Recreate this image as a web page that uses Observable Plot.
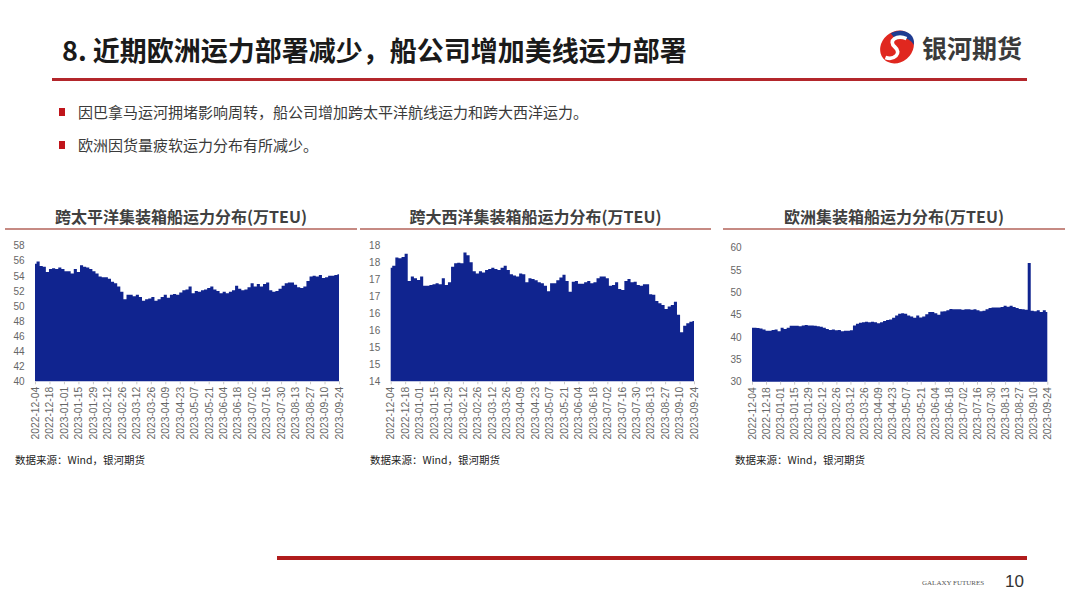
<!DOCTYPE html>
<html>
<head>
<meta charset="utf-8">
<script src="https://cdn.jsdelivr.net/npm/d3@7"></script>
<script src="https://cdn.jsdelivr.net/npm/@observablehq/plot@0.6"></script>
<style>
  html, body { margin: 0; padding: 0; background: #fff; }
  #slide { position: relative; width: 1080px; height: 608px; overflow: hidden; font-family: "Noto Sans CJK SC", "Noto Sans", sans-serif; }
  .abs { position: absolute; white-space: nowrap; }
  .ptitle { position: absolute; text-align: center; font-size: 16px; font-weight: bold; color: #404040; line-height: 20px; }
  .pline { position: absolute; height: 2px; background: #c68a83; }
  .src { position: absolute; font-size: 10.5px; color: #222; line-height: 14px; white-space: nowrap; }
  .bullet { position: absolute; width: 6px; height: 8px; background: #c0151b; }
  .btext { position: absolute; font-size: 15px; color: #3a3a3a; line-height: 20px; white-space: nowrap; }
  .chart { position: absolute; top: 240px; }
</style>
</head>
<body>
<div id="slide">
  <div class="abs" style="left:62px;top:33px;font-size:27px;font-weight:bold;color:#1a1a1a;line-height:34px;">8. 近期欧洲运力部署减少，船公司增加美线运力部署</div>
  <svg class="abs" width="40" height="40" viewBox="0 0 38 38" style="left:877px;top:27px">
    <ellipse cx="19" cy="19" rx="17" ry="14.5" transform="rotate(-40 19 19)" fill="#e0271f"/>
    <path d="M13 6 C23 0 37 5 35 17 C31 10 24 9 18 12 Z" fill="#1f3c91"/>
    <path d="M28 11 C19 7 10 13 17 19 C24 25 16 32 8 29" fill="none" stroke="#fff" stroke-width="3.5"/>
  </svg>
  <div class="abs" style="left:922px;top:31px;font-size:25px;font-weight:bold;color:#3a3a3a;line-height:32px;">银河期货</div>
  <div class="abs" style="left:52px;top:78px;width:975px;height:3px;background:#b3262b;"></div>

  <div class="bullet" style="left:59px;top:108px;"></div>
  <div class="btext" style="left:78px;top:102px;">因巴拿马运河拥堵影响周转，船公司增加跨太平洋航线运力和跨大西洋运力。</div>
  <div class="bullet" style="left:59px;top:141px;"></div>
  <div class="btext" style="left:78px;top:135px;">欧洲因货量疲软运力分布有所减少。</div>

  <div class="ptitle" style="left:5px;width:352px;top:206px;">跨太平洋集装箱船运力分布(万TEU)</div>
  <div class="pline" style="left:5px;width:352px;top:228px;"></div>
  <div class="ptitle" style="left:360px;width:351px;top:206px;">跨大西洋集装箱船运力分布(万TEU)</div>
  <div class="pline" style="left:360px;width:351px;top:228px;"></div>
  <div class="ptitle" style="left:723px;width:342px;top:206px;">欧洲集装箱船运力分布(万TEU)</div>
  <div class="pline" style="left:723px;width:342px;top:228px;"></div>

  <div id="c1" class="chart" style="left:0px;"></div>
  <div id="c2" class="chart" style="left:355px;"></div>
  <div id="c3" class="chart" style="left:715px;"></div>

  <div class="src" style="left:15px;top:453px;">数据来源：Wind，银河期货</div>
  <div class="src" style="left:370px;top:453px;">数据来源：Wind，银河期货</div>
  <div class="src" style="left:735px;top:453px;">数据来源：Wind，银河期货</div>

  <div class="abs" style="left:277px;top:556px;width:750px;height:4px;background:#b01c1c;"></div>
  <div class="abs" style="left:922px;top:578px;font-size:7px;font-family:'Liberation Serif',serif;color:#555;line-height:10px;">GALAXY FUTURES</div>
  <div class="abs" style="left:1005px;top:571px;font-size:17px;font-family:'Liberation Sans',Arial,sans-serif;color:#333;line-height:22px;">10</div>
</div>
<script>
// ---- data (every 3 days from 2022-12-04 to 2023-09-24) ----
const startDate = "2022-12-04";
const stepDays = 3;

const pacific = [
  55.6, 55.9, 55.3, 55.2, 54.5, 54.9, 55.0, 54.9, 55.1, 54.9,
  54.6, 54.6, 54.3, 54.9, 54.5, 55.4, 55.2, 55.1, 54.9, 54.6,
  54.3, 53.9, 53.8, 53.8, 53.6, 53.2, 53.0, 52.6, 51.9, 50.9,
  51.5, 51.5, 51.3, 51.5, 51.2, 50.7, 50.9, 51.0, 51.2, 50.7,
  50.9, 51.2, 51.5, 51.1, 51.5, 51.6, 51.5, 51.8, 52.1, 52.2,
  52.6, 51.7, 52.0, 51.9, 52.1, 52.2, 52.4, 52.6, 52.2, 52.0,
  51.7, 51.9, 51.7, 51.9, 52.1, 52.7, 52.3, 52.1, 52.2, 52.5,
  53.0, 52.6, 52.9, 52.6, 52.9, 53.1, 52.1, 51.9, 52.0, 52.3,
  52.7, 53.0, 53.1, 53.1, 52.8, 52.5, 52.4, 52.6, 53.3, 53.9,
  54.0, 53.9, 54.1, 53.7, 53.8, 54.0, 54.0, 54.1, 54.2
];

const atlantic = [
  17.35, 17.41, 17.65, 17.63, 17.67, 17.76, 16.96, 17.09, 17.04, 16.99,
  17.09, 16.82, 16.82, 16.84, 16.86, 16.89, 16.86, 17.04, 16.84, 16.92,
  17.38, 17.48, 17.50, 17.48, 17.80, 17.72, 17.51, 17.25, 17.18, 17.25,
  17.21, 17.28, 17.31, 17.35, 17.31, 17.28, 17.35, 17.41, 17.28, 17.16,
  17.12, 17.09, 17.18, 17.16, 16.92, 17.04, 17.02, 16.98, 16.92, 16.89,
  16.82, 16.66, 16.89, 16.89, 16.98, 17.06, 17.14, 16.96, 16.64, 16.94,
  16.96, 16.88, 16.88, 16.92, 16.96, 16.89, 16.92, 17.04, 17.09, 17.09,
  17.04, 16.82, 16.84, 16.92, 16.72, 16.69, 16.96, 17.02, 16.92, 16.94,
  16.84, 16.82, 16.86, 16.86, 16.57, 16.55, 16.37, 16.30, 16.25, 16.13,
  16.21, 16.25, 16.35, 15.96, 15.45, 15.64, 15.71, 15.76, 15.78
];

const europe = [
  42.1, 42.1, 42.0, 41.9, 41.7, 41.4, 41.4, 41.6, 41.7, 41.3,
  42.1, 41.8, 42.1, 42.5, 42.5, 42.5, 42.4, 42.6, 42.7, 42.6,
  42.6, 42.5, 42.4, 42.3, 42.1, 41.8, 41.6, 41.7, 41.5, 41.6,
  41.3, 41.4, 41.4, 41.5, 42.6, 43.0, 43.2, 43.3, 43.4, 43.3,
  43.4, 43.3, 43.1, 43.3, 43.6, 43.8, 43.9, 44.3, 44.8, 45.2,
  45.3, 45.2, 44.8, 44.6, 44.3, 44.8, 44.4, 44.6, 45.1, 45.6,
  45.6, 45.3, 45.0, 45.7, 45.8, 46.0, 46.3, 46.2, 46.2, 46.2,
  46.1, 46.2, 46.2, 46.1, 46.2, 46.0, 45.8, 45.9, 46.2, 46.5,
  46.6, 46.6, 46.6, 46.7, 47.0, 46.8, 47.0, 46.7, 46.5, 46.3,
  46.2, 46.1, 56.6, 45.9, 45.8, 46.0, 45.6, 46.0, 45.6
];

const xTickLabels = [
  "2022-12-04", "2022-12-18", "2023-01-01", "2023-01-15", "2023-01-29", "2023-02-12",
  "2023-02-26", "2023-03-12", "2023-03-26", "2023-04-09", "2023-04-23", "2023-05-07",
  "2023-05-21", "2023-06-04", "2023-06-18", "2023-07-02", "2023-07-16", "2023-07-30",
  "2023-08-13", "2023-08-27", "2023-09-10", "2023-09-24"
];

const yTicks1 = [40, 42, 44, 46, 48, 50, 52, 54, 56, 58];
const yLabels1 = ["40", "42", "44", "46", "48", "50", "52", "54", "56", "58"];
const yTicks2 = [14, 14.5, 15, 15.5, 16, 16.5, 17, 17.5, 18];
const yLabels2 = ["14", "15", "15", "16", "16", "17", "17", "18", "18"];
const yTicks3 = [30, 35, 40, 45, 50, 55, 60];
const yLabels3 = ["30", "35", "40", "45", "50", "55", "60"];

// ---- build ----
const start = new Date(startDate + "T00:00:00Z");
const toRows = (vals) => vals.map((v, i) => ({ date: d3.utcDay.offset(start, stepDays * i), value: v }));
const xTicks = xTickLabels.map(s => new Date(s + "T00:00:00Z"));
const xLabelMap = new Map(xTicks.map((d, i) => [+d, xTickLabels[i]]));

function makeChart(vals, yTicks, yLabels, opts) {
  const rows = toRows(vals);
  const yMap = new Map(yTicks.map((t, i) => [t, yLabels[i]]));
  const yMin = yTicks[0], yMax = yTicks[yTicks.length - 1];
  return Plot.plot({
    width: opts.width,
    height: 205,
    marginLeft: opts.ml,
    marginRight: opts.mr,
    marginTop: opts.mt,
    marginBottom: opts.mb,
    style: { fontFamily: "'Liberation Sans', Arial, sans-serif", fontSize: "10px", color: "#666", background: "transparent", overflow: "visible" },
    x: { type: "utc", domain: [rows[0].date, rows[rows.length - 1].date] },
    y: { domain: [yMin, yMax] },
    marks: [
      Plot.areaY(rows, { x: "date", y1: yMin, y2: "value", fill: "#10248f", curve: "step" }),
      Plot.axisY({ ticks: yTicks, tickFormat: d => yMap.get(d), tickSize: 0, tickPadding: 11, label: null, fill: "#666", fontSize: 10 }),
      Plot.axisX({ ticks: xTicks, tickFormat: d => xLabelMap.get(+d), tickRotate: -90, tickSize: 3, tickPadding: 2, label: null, stroke: "#c8c8c8", fill: "#666", fontSize: 10.3 })
    ]
  });
}

document.getElementById("c1").append(makeChart(pacific, yTicks1, yLabels1, { width: 350, ml: 35, mr: 11, mt: 5.7, mb: 63.7 }));
document.getElementById("c2").append(makeChart(atlantic, yTicks2, yLabels2, { width: 350, ml: 35.7, mr: 11, mt: 5.7, mb: 63.7 }));
document.getElementById("c3").append(makeChart(europe, yTicks3, yLabels3, { width: 345, ml: 37, mr: 12.7, mt: 7.7, mb: 63.3 }));
</script>
</body>
</html>
